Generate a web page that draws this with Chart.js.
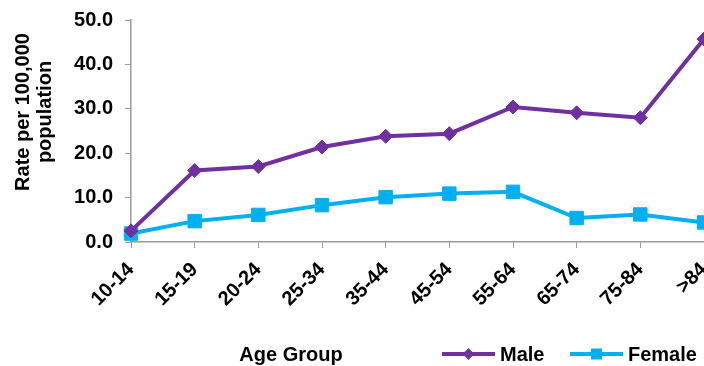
<!DOCTYPE html>
<html lang="en">
<head>
  <meta charset="UTF-8" />
  <title>Rate per 100,000 population by Age Group</title>
  <script src="https://cdn.jsdelivr.net/npm/chart.js"></script>
  <style>
    html, body { margin: 0; padding: 0; background: #fff; overflow: hidden; }
    #wrap { position: relative; width: 704px; height: 366px; }
  </style>
</head>
<body>
  <div id="wrap"><canvas id="rateChart"></canvas></div>

  <script>
    const ageGroups = ['10-14', '15-19', '20-24', '25-34', '35-44', '45-54', '55-64', '65-74', '75-84', '>84'];
    const maleRates = [2.5, 16.1, 17.0, 21.4, 23.8, 24.4, 30.4, 29.1, 28.0, 45.7];
    const femaleRates = [1.9, 4.7, 6.1, 8.3, 10.1, 10.9, 11.3, 5.4, 6.2, 4.4];
    const yTicks = [0, 10, 20, 30, 40, 50];
    const yTitle = ['Rate per 100,000', 'population'];
    const xTitle = 'Age Group';

    const MALE = '#7030A0';
    const FEMALE = '#00B0F0';
    const AXIS = '#9a9a9a';
    const FONT = '"Liberation Sans", Arial, sans-serif';

    // axis titles and the legend row share the bottom strip, so draw them here
    const chartText = {
      id: 'chartText',
      afterDraw(chart) {
        const ctx = chart.ctx;
        ctx.save();
        ctx.fillStyle = '#000';
        ctx.font = 'bold 20px ' + FONT;
        ctx.textBaseline = 'middle';
        ctx.textAlign = 'center';

        // y title, two lines rotated
        ctx.save();
        ctx.translate(0, 112);
        ctx.rotate(-Math.PI / 2);
        ctx.fillText(yTitle[0], 0, 23);
        ctx.fillText(yTitle[1], 0, 45);
        ctx.restore();

        ctx.fillText(xTitle, 291, 355);

        // legend entries: line with marker, then label
        const y = 354;
        chart.data.datasets.forEach((ds, i) => {
          const x0 = i === 0 ? 442 : 570;
          ctx.strokeStyle = ds.borderColor;
          ctx.lineWidth = 4;
          ctx.beginPath();
          ctx.moveTo(x0, y);
          ctx.lineTo(x0 + 53, y);
          ctx.stroke();
          const cx = x0 + 26.5;
          ctx.fillStyle = ds.borderColor;
          ctx.beginPath();
          if (ds.pointStyle === 'rectRot') {
            ctx.moveTo(cx - 6, y);
            ctx.lineTo(cx, y - 6);
            ctx.lineTo(cx + 6, y);
            ctx.lineTo(cx, y + 6);
            ctx.closePath();
          } else {
            ctx.rect(cx - 5.5, y - 5.5, 11, 11);
          }
          ctx.fill();
          ctx.fillStyle = '#000';
          ctx.textAlign = 'left';
          ctx.fillText(ds.label, x0 + 58, y + 1);
        });
        ctx.restore();
      }
    };

    new Chart(document.getElementById('rateChart'), {
      type: 'line',
      data: {
        labels: ageGroups,
        datasets: [
          {
            label: 'Male',
            data: maleRates,
            borderColor: MALE,
            backgroundColor: MALE,
            borderWidth: 4,
            pointStyle: 'rectRot',
            pointRadius: 7,
            pointBorderWidth: 1,
            tension: 0,
            clip: false
          },
          {
            label: 'Female',
            data: femaleRates,
            borderColor: FEMALE,
            backgroundColor: FEMALE,
            borderWidth: 4,
            pointStyle: 'rect',
            pointRadius: 9.5,
            pointBorderWidth: 1,
            tension: 0,
            clip: false
          }
        ]
      },
      options: {
        responsive: true,
        maintainAspectRatio: false,
        animation: false,
        layout: { autoPadding: false, padding: { top: 20, right: 0, bottom: 0, left: 0 } },
        plugins: {
          legend: { display: false },
          tooltip: { enabled: false }
        },
        scales: {
          x: {
            offset: false,
            grid: { drawOnChartArea: false, drawTicks: true, tickLength: 6, color: AXIS },
            border: { color: AXIS, width: 1.5 },
            ticks: {
              color: '#000',
              font: { family: FONT, size: 20, weight: 'bold' },
              minRotation: 45,
              maxRotation: 45,
              padding: 10,
              autoSkip: false
            },
            afterFit(scale) {
              scale.height = 124;
              scale.paddingRight = 0;
            }
          },
          y: {
            min: 0,
            max: 50,
            afterBuildTicks(scale) {
              scale.ticks = yTicks.map(v => ({ value: v }));
            },
            grid: { drawOnChartArea: false, drawTicks: true, tickLength: 6, color: AXIS },
            border: { color: AXIS, width: 1.5 },
            ticks: {
              color: '#000',
              font: { family: FONT, size: 20, weight: 'bold' },
              padding: 12,
              callback: v => v.toFixed(1)
            },
            afterFit(scale) {
              scale.width = 131;
              scale.paddingTop = 0;
            }
          }
        }
      },
      plugins: [chartText]
    });
  </script>
</body>
</html>
